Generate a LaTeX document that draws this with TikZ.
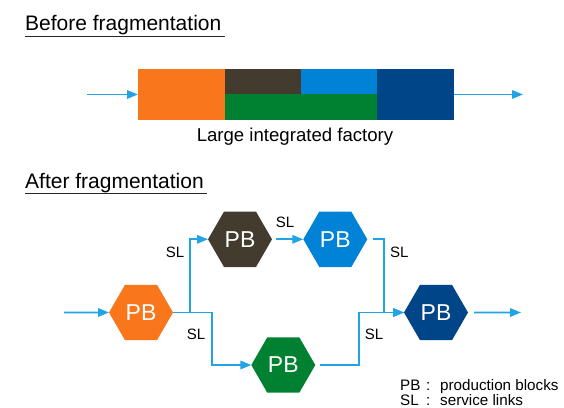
\documentclass[tikz,border=0pt]{standalone}
\usepackage{fontspec}
\setmainfont{Liberation Sans}
\usetikzlibrary{arrows.meta,shapes.geometric}
\definecolor{cOrange}{HTML}{FA761B}
\definecolor{cDark}{HTML}{443B2F}
\definecolor{cBlue}{HTML}{0083D6}
\definecolor{cNavy}{HTML}{004588}
\definecolor{cGreen}{HTML}{008132}
\definecolor{cLink}{HTML}{20A4E6}
\begin{document}
\begin{tikzpicture}[x=1pt,y=-1pt,
  link/.style={draw=cLink,line width=1.7pt,-{Triangle[length=11pt,width=8.5pt]}},
  hexa/.style={regular polygon,regular polygon sides=6,minimum size=64pt,inner sep=0pt,outer sep=0pt,
    text=white,font=\fontsize{23}{26}\selectfont},
  blk/.style={inner sep=0pt,outer sep=0pt,draw=none},
  heading/.style={inner sep=0pt,anchor=base west,font=\fontsize{21}{25}\selectfont},
  sl/.style={inner sep=0pt,font=\fontsize{15}{18}\selectfont},
  legend/.style={inner sep=0pt,anchor=base west,font=\fontsize{15.2}{17}\selectfont},
  uline/.style={line width=1.2pt,draw=black!85}]
\useasboundingbox (0,0) rectangle (564,407);
% headings
\node[heading] (h1) at (25,30.7) {Before fragmentation};
\draw[uline] ([yshift=-6pt]h1.base west) -- ([yshift=-6pt,xshift=3pt]h1.base east);
\node[heading] (h2) at (25,188) {After fragmentation};
\draw[uline] ([yshift=-5.5pt]h2.base west) -- ([yshift=-5.5pt,xshift=3pt]h2.base east);
% integrated factory bar
\node[blk,fill=cOrange,minimum width=87pt,minimum height=51pt] (bo) at (181.5,94.5) {};
\node[blk,fill=cDark,minimum width=76pt,minimum height=25pt] (bd) at (263,81.5) {};
\node[blk,fill=cBlue,minimum width=76pt,minimum height=25pt] (bb) at (339,81.5) {};
\node[blk,fill=cGreen,minimum width=152pt,minimum height=26pt] (bg) at (301,107) {};
\node[blk,fill=cNavy,minimum width=77pt,minimum height=51pt] (bn) at (415.5,94.5) {};
\coordinate (in1) at (87,94.5);
\coordinate (out1) at (523,94.5);
\draw[link] (in1) -- (bo.west);
\draw[link] (bn.east) -- (out1);
\node[inner sep=0pt,anchor=base,font=\fontsize{18.6}{22}\selectfont] (lf) at (295,141.5) {Large integrated factory};
% fragmented
\node[hexa,fill=cOrange] (o) at (141,312.5) {PB};
\node[hexa,fill=cDark] (d) at (240,239.3) {PB};
\node[hexa,fill=cBlue] (b) at (335.3,239.3) {PB};
\node[hexa,fill=cGreen] (g) at (283.3,365) {PB};
\node[hexa,fill=cNavy] (n) at (436,312.5) {PB};
\coordinate (in2) at (64,312.5);
\coordinate (out2) at (521,312.5);
\draw[link] (in2) -- (o.west);
\draw[link] (o.east) -- ++(17,0) |- (d.west);
\draw[link] (o.east) -- ++(38.7,0) |- (g.west);
\draw[link] ([xshift=3.5pt]d.east) -- (b.west);
\draw[link] ([xshift=6pt]b.east) -- ++(10.7,0) |- (n.west);
\draw[link] ([xshift=4.3pt]g.east) -- ++(39.3,0) |- (n.west);
\draw[link] ([xshift=6pt]n.east) -- (out2);
% SL labels
\node[sl] (s1) at (175,252.3) {SL};
\node[sl] (s2) at (285,222.3) {SL};
\node[sl] (s3) at (399.3,252.3) {SL};
\node[sl] (s4) at (196,334) {SL};
\node[sl] (s5) at (374,334) {SL};
% legend
\node[legend] (l1a) at (400,390.2) {PB};
\node[legend] (l1b) at (426,390.2) {:};
\node[legend] (l1c) at (440,390.2) {production blocks};
\node[legend] (l2a) at (400,405) {SL};
\node[legend] (l2b) at (426,405) {:};
\node[legend] (l2c) at (440,405) {service links};
\end{tikzpicture}
\end{document}
